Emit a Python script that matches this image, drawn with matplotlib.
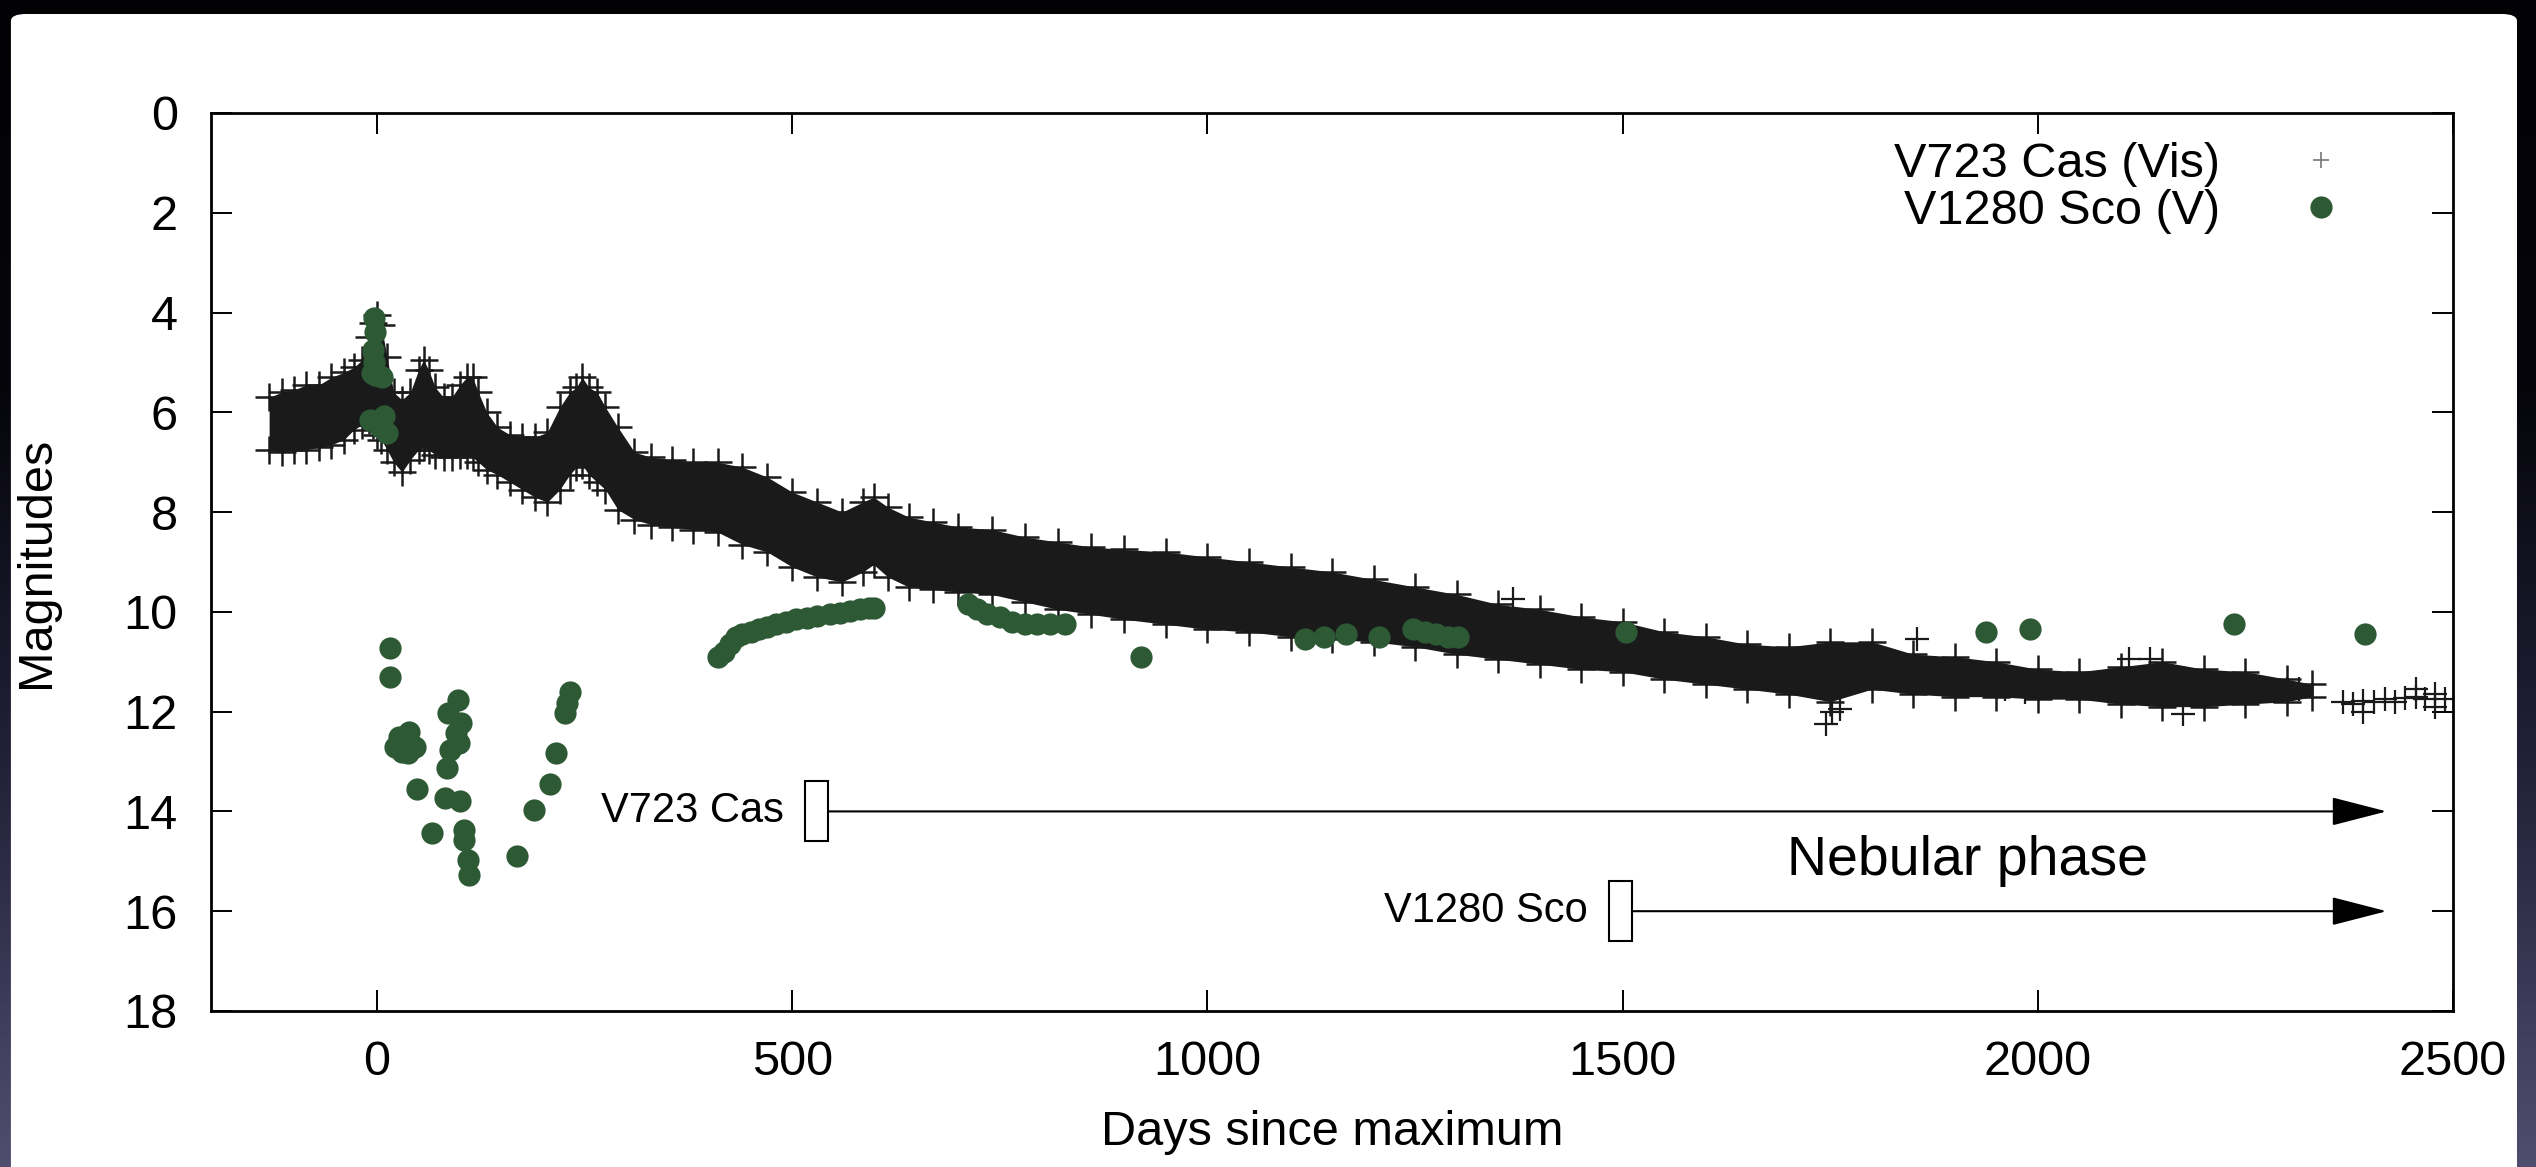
import numpy as np
import matplotlib.pyplot as plt
from matplotlib.patches import Rectangle, FancyBboxPatch
from matplotlib.colors import LinearSegmentedColormap
from matplotlib.lines import Line2D

plt.rcParams['font.family'] = ['Liberation Sans', 'DejaVu Sans']

# V723 Cas (visual): the dense band of points, read as its bright / faint edge
cas_day = [-130, -115, -100, -85, -70, -55, -40, -28, -18, -10, -5, 0, 5, 12, 20, 30,
           40, 50, 56, 62, 70, 80, 90, 100, 108, 115, 122, 132, 145, 160, 175, 190,
           205, 220, 232, 240, 247, 255, 265, 275, 290, 310, 330, 355, 380, 410, 440,
           470, 500, 530, 560, 585, 598, 615, 640, 670, 700, 740, 780, 820, 860, 900,
           950, 1000, 1050, 1100, 1150, 1200, 1250, 1300, 1350, 1400, 1450, 1500, 1550,
           1600, 1650, 1700, 1750, 1800, 1850, 1900, 1950, 2000, 2050, 2100, 2150, 2200,
           2250, 2300, 2330]
cas_bright = [5.7, 5.6, 5.55, 5.45, 5.45, 5.3, 5.2, 5.1, 4.95, 4.5, 4.2, 4.05, 4.25, 4.9, 5.6, 5.75,
              5.6, 5.15, 4.95, 5.15, 5.5, 5.7, 5.7, 5.45, 5.3, 5.3, 5.6, 6.0, 6.3, 6.45, 6.5, 6.5,
              6.4, 5.9, 5.6, 5.5, 5.3, 5.5, 5.6, 5.9, 6.3, 6.8, 6.9, 6.95, 7.0, 7.0, 7.1,
              7.3, 7.6, 7.8, 8.0, 7.8, 7.7, 7.9, 8.1, 8.2, 8.3, 8.35, 8.5, 8.6, 8.7, 8.75,
              8.8, 8.9, 9.0, 9.1, 9.2, 9.35, 9.5, 9.65, 9.85, 9.95, 10.1, 10.2, 10.4,
              10.5, 10.65, 10.7, 10.6, 10.6, 10.85, 10.9, 11.0, 11.15, 11.2, 11.1, 11.0, 11.15,
              11.2, 11.35, 11.45]
cas_faint = [6.75, 6.8, 6.75, 6.75, 6.7, 6.65, 6.55, 6.35, 6.25, 6.15, 6.25, 6.45, 6.55, 6.75, 7.0, 7.2,
             6.95, 6.75, 6.7, 6.75, 6.85, 6.9, 6.9, 6.85, 6.85, 6.9, 7.0, 7.15, 7.25, 7.4, 7.55, 7.7,
             7.8, 7.55, 7.25, 7.1, 7.05, 7.25, 7.4, 7.55, 7.95, 8.15, 8.25, 8.3, 8.35, 8.4, 8.65,
             8.8, 9.1, 9.3, 9.4, 9.2, 9.05, 9.3, 9.5, 9.55, 9.6, 9.65, 9.8, 9.95, 10.05, 10.15,
             10.25, 10.35, 10.4, 10.5, 10.55, 10.6, 10.7, 10.85, 10.95, 11.05, 11.15, 11.2, 11.35,
             11.45, 11.55, 11.65, 11.8, 11.55, 11.65, 11.7, 11.7, 11.75, 11.75, 11.85, 11.9, 11.9,
             11.85, 11.8, 11.7]
# stray single points and the last season after the gap
cas_odd_day = [1368, 1745, 1752, 1762, 1855, 2110, 2135, 2175, 1960, 1985, 2300, 2315,
               2368, 2380, 2392, 2392, 2405, 2418, 2430, 2442, 2455, 2455, 2466, 2478, 2478, 2490]
cas_odd_mag = [9.75, 12.25, 12.0, 11.95, 10.55, 10.95, 10.95, 12.05, 11.55, 11.6, 11.55, 11.55,
               11.8, 11.85, 11.78, 12.0, 11.8, 11.75, 11.8, 11.72, 11.7, 11.55, 11.75, 11.65, 11.9, 11.75]

# V1280 Sco (V)
sco_day = [-4, -3, -5, -4, -6, -2, 6, -8, 8, 12, 4,
           15, 16, 22, 26, 30, 37, 38, 46, 48, 66,
           82, 84, 86, 88, 95, 97, 99, 101, 100, 105, 105, 109, 111,
           169, 189, 208, 216, 226, 229, 232,
           410, 418, 425, 432, 440, 450, 460, 470, 480, 492, 505, 518, 530, 545, 558, 570, 582, 592, 598,
           712, 722, 735, 750, 765, 780, 795, 810, 828, 920,
           1117, 1140, 1167, 1206, 1248, 1262, 1275, 1290, 1302, 1504,
           1937, 1990, 2236, 2394]
sco_mag = [4.1, 4.4, 4.75, 5.0, 5.22, 5.25, 5.3, 6.15, 6.08, 6.42, 6.3,
           10.73, 11.31, 12.7, 12.5, 12.8, 12.83, 12.4, 12.7, 13.55, 14.43,
           13.73, 13.13, 12.03, 12.77, 12.43, 11.76, 12.63, 12.23, 13.8, 14.37, 14.57, 14.97, 15.27,
           14.9, 13.97, 13.45, 12.83, 12.03, 11.83, 11.6,
           10.9, 10.8, 10.65, 10.5, 10.45, 10.4, 10.35, 10.3, 10.25, 10.2, 10.15, 10.12, 10.08, 10.05, 10.02, 9.98, 9.95, 9.92, 9.92,
           9.85, 9.95, 10.05, 10.1, 10.2, 10.25, 10.25, 10.25, 10.25, 10.9,
           10.55, 10.5, 10.45, 10.5, 10.35, 10.4, 10.45, 10.5, 10.5, 10.4,
           10.4, 10.35, 10.25, 10.45]

# start of the nebular phase
neb_names = ['V723 Cas', 'V1280 Sco']
neb_start = [515, 1483]
neb_mag = [14, 16]
neb_end = 2420

black = '#1a1a1a'
green = '#2d5a35'

fig = plt.figure(figsize=(25.36, 11.67), dpi=100)

# slide background: dark gradient with a white panel
bg = fig.add_axes([0, 0, 1, 1])
bg.set_axis_off()
cmap = LinearSegmentedColormap.from_list('bg', ['#4f4e6e', '#23223a', '#05050b', '#020205'])
bg.imshow(np.linspace(0, 1, 256)[:, None], aspect='auto', cmap=cmap,
          extent=[0, 1, 0, 1], origin='lower')
bg.add_patch(FancyBboxPatch((0.0043, -0.05), 0.9882, 1.038,
                            boxstyle='round,pad=0,rounding_size=0.006',
                            fc='white', ec='none', transform=bg.transAxes))
bg.set_xlim(0, 1)
bg.set_ylim(0, 1)

ax = fig.add_axes([0.0832, 0.1337, 0.8841, 0.7695])
ax.set_facecolor('white')

# edge values are cross centres; the band between them is solid
ax.fill_between(cas_day, cas_bright, cas_faint, color=black, lw=0, zorder=2)
for mags in (cas_bright, cas_faint):
    ax.plot(cas_day, mags, '+', ms=20, mew=1.8, color=black, zorder=2)
ax.plot(cas_odd_day, cas_odd_mag, '+', ms=17, mew=1.6, color=black, zorder=2)

ax.plot(sco_day, sco_mag, 'o', ms=16, mew=0, color=green, zorder=3)

for name, start, mag in zip(neb_names, neb_start, neb_mag):
    ax.add_patch(Rectangle((start, mag - 0.6), 28, 1.2, fc='white', ec='black', lw=1.5, zorder=4))
    ax.annotate('', xy=(neb_end, mag), xytext=(start + 28, mag),
                arrowprops=dict(arrowstyle='-|>,head_length=3.5,head_width=0.9',
                                mutation_scale=10, color='black', lw=1.5,
                                shrinkA=0, shrinkB=0))
    ax.annotate(name, xy=(start, mag), xytext=(-15, 0), textcoords='offset points',
                ha='right', va='center', fontsize=30)
ax.text(1915, 15.0, 'Nebular phase', ha='center', va='center', fontsize=40)

ax.set_xlim(-200, 2500)
ax.set_ylim(18, 0)
ax.set_xticks(range(0, 2501, 500))
ax.set_yticks(range(0, 19, 2))
ax.tick_params(direction='in', length=15, width=1.4, labelsize=35, top=True, right=True)
ax.tick_params(axis='x', pad=21)
ax.tick_params(axis='y', pad=24)
for s in ax.spines.values():
    s.set_linewidth(2)

ax.set_xlabel('Days since maximum', fontsize=35, va='center')
ax.xaxis.set_label_coords(0.5, -0.135)
ax.set_ylabel('Magnitudes', fontsize=35, va='center')
ax.yaxis.set_label_coords(-0.078, 0.5)

handles = [Line2D([], [], ls='none', marker='+', ms=11, mew=1.2, color='#777777'),
           Line2D([], [], ls='none', marker='o', ms=16, mew=0, color=green)]
ax.legend(handles, ['V723 Cas (Vis)', 'V1280 Sco (V)'], loc='upper right',
          bbox_to_anchor=(0.952, 0.968), markerfirst=False, frameon=False,
          fontsize=35, handlelength=1, handletextpad=1.58, labelspacing=0.05,
          borderpad=0, borderaxespad=0)

fig.savefig('out.png', dpi=100)
